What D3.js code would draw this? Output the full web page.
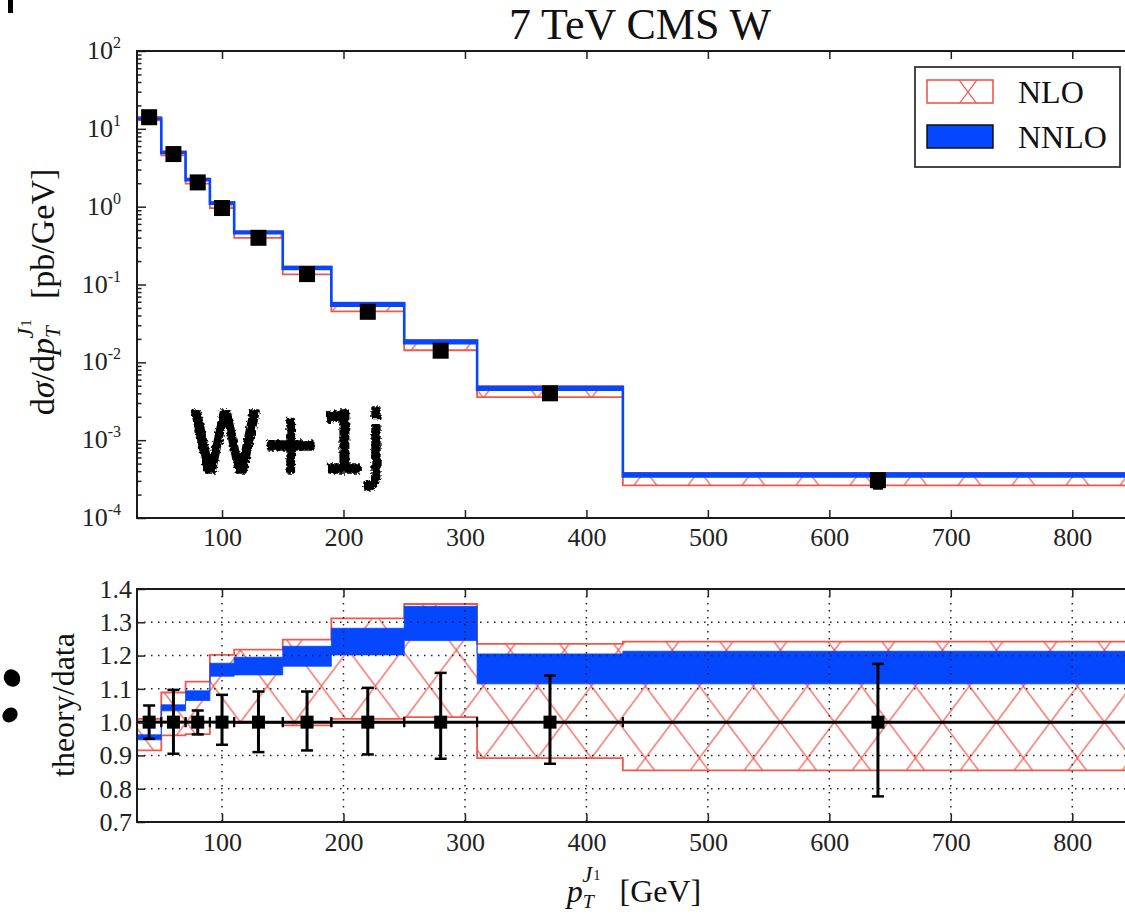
<!DOCTYPE html>
<html lang="en">
<head>
<meta charset="UTF-8" />
<title>7 TeV CMS W</title>
<script src="https://cdnjs.cloudflare.com/ajax/libs/d3/7.8.5/d3.min.js"></script>
<style>
  body { margin: 0; background: #fff; }
  svg { display: block; font-family: "Liberation Serif", "DejaVu Serif", serif; }
  .tick text { font-size: 26px; fill: #222; font-family: "Liberation Serif", serif; }
  .tick line { stroke: #222; stroke-width: 1.5; }
  .grid line { stroke: #222; stroke-width: 1.5; stroke-dasharray: 1.5, 5.5; }
</style>
</head>
<body>
<svg width="1125" height="915"></svg>
<script>
// pT bins [GeV]
var binEdges = [30, 50, 70, 90, 110, 150, 190, 250, 310, 430, 850];
var binCenters = [40, 60, 80, 100, 130, 170, 220, 280, 370, 640];

// CMS data [pb/GeV]
var dataVal = [14.1, 4.74, 2.05, 0.96, 0.398, 0.136, 0.0446, 0.0141, 0.0040, 0.000306];
// data errors as ratio to data (lower panel)
var errLo = [0.95, 0.905, 0.963, 0.932, 0.91, 0.915, 0.903, 0.89, 0.875, 0.777];
var errHi = [1.05, 1.097, 1.035, 1.082, 1.092, 1.092, 1.103, 1.148, 1.14, 1.175];

// theory bands, upper panel [pb/GeV]
var nloLo = [12.9, 4.55, 1.98, 0.96, 0.397, 0.135, 0.0451, 0.0143, 0.00357, 0.000262];
var nloHi = [14.2, 5.16, 2.30, 1.154, 0.485, 0.170, 0.0585, 0.0191, 0.00494, 0.000380];
var nnloLo = [13.35, 4.90, 2.18, 1.092, 0.4545, 0.1588, 0.0536, 0.01755, 0.00446, 0.000341];
var nnloHi = [13.56, 4.99, 2.24, 1.130, 0.4756, 0.1670, 0.0572, 0.0190, 0.00482, 0.000372];

// theory/data, lower panel
var nloRatioLo = [0.915, 0.96, 0.964, 1.0, 0.998, 0.99, 1.01, 1.015, 0.892, 0.855];
var nloRatioHi = [1.01, 1.089, 1.122, 1.202, 1.218, 1.248, 1.312, 1.355, 1.235, 1.242];
var nnloRatioLo = [0.947, 1.034, 1.065, 1.138, 1.142, 1.168, 1.202, 1.245, 1.115, 1.115];
var nnloRatioHi = [0.962, 1.052, 1.094, 1.177, 1.195, 1.228, 1.282, 1.348, 1.205, 1.213];

var xTicks = [100, 200, 300, 400, 500, 600, 700, 800];
var decades = [-4, -3, -2, -1, 0, 1, 2];
var ratioTicks = [0.7, 0.8, 0.9, 1.0, 1.1, 1.2, 1.3, 1.4];
var ratioGrid = [0.8, 0.9, 1.0, 1.1, 1.2, 1.3];

var RED = "#f0584c", BLUE = "#0546ff", INK = "#1a1a1a";
var SERIF = "Liberation Serif, DejaVu Serif, serif";

var svg = d3.select("svg");
var defs = svg.append("defs");

var x = d3.scaleLinear().domain([binEdges[0], binEdges[binEdges.length - 1]]).range([137, 1133]);
var yTop = d3.scaleLog().domain([1e-4, 1e2]).range([518, 51]);
var yBot = d3.scaleLinear().domain([0.7, 1.4]).range([822, 589]);

// cross hatch like matplotlib 'x'
function hatch(id, ox, oy) {
  var p = defs.append("pattern").attr("id", id).attr("patternUnits", "userSpaceOnUse")
    .attr("x", ox).attr("y", oy).attr("width", 54).attr("height", 72);
  [[0, 0, 54, 72], [54, 0, 0, 72], [-54, 0, 0, 72], [54, 0, 108, 72], [0, -72, 54, 0], [54, -72, 0, 0], [0, 72, 54, 144], [54, 72, 0, 144]]
    .forEach(function(l) {
      p.append("line").attr("x1", l[0]).attr("y1", l[1]).attr("x2", l[2]).attr("y2", l[3])
        .attr("stroke", RED).attr("stroke-width", 1.3);
    });
}
hatch("hatch", x(400) - 400, yBot(1.0));
hatch("hatchLeg", 968 - 27, 92 - 36);

function clip(id, y) {
  defs.append("clipPath").attr("id", id).append("rect")
    .attr("x", x.range()[0]).attr("y", y.range()[1])
    .attr("width", x.range()[1] - x.range()[0]).attr("height", y.range()[0] - y.range()[1]);
}
clip("clipTop", yTop);
clip("clipBot", yBot);

var rough = defs.append("filter").attr("id", "rough");
rough.append("feTurbulence").attr("type", "fractalNoise").attr("baseFrequency", 0.35).attr("numOctaves", 2).attr("result", "n");
rough.append("feDisplacementMap").attr("in", "SourceGraphic").attr("in2", "n").attr("scale", 5);

function band(y, lo, hi) {
  var pts = binEdges.map(function(e, i) {
    var k = Math.min(i, lo.length - 1);
    return { x: e, lo: lo[k], hi: hi[k] };
  });
  return d3.area().curve(d3.curveStepAfter)
    .x(function(d) { return x(d.x); })
    .y0(function(d) { return y(d.lo); })
    .y1(function(d) { return y(d.hi); })(pts);
}

// axis styling: serif labels, no domain line (frame drawn separately)
function styleAxis(g) {
  g.attr("font-family", SERIF).attr("font-size", 26);
  g.select(".domain").remove();
}

// ---------- upper panel ----------
var upper = svg.append("g");
var upperBands = upper.append("g").attr("clip-path", "url(#clipTop)");
upperBands.append("path").attr("d", band(yTop, nloLo, nloHi))
  .attr("fill", "url(#hatch)").attr("stroke", RED).attr("stroke-width", 1.8);
upperBands.append("path").attr("d", band(yTop, nnloLo, nnloHi))
  .attr("fill", BLUE).attr("stroke", BLUE).attr("stroke-width", 2.6);

// data
var pts = upper.append("g");
binCenters.forEach(function(c, i) {
  var lo = yTop(dataVal[i] * errLo[i]), hi = yTop(dataVal[i] * errHi[i]);
  pts.append("line").attr("x1", x(c)).attr("x2", x(c)).attr("y1", lo).attr("y2", hi)
    .attr("stroke", "#000").attr("stroke-width", 2.5);
  [lo, hi].forEach(function(v) {
    pts.append("line").attr("x1", x(c) - 5).attr("x2", x(c) + 5).attr("y1", v).attr("y2", v)
      .attr("stroke", "#000").attr("stroke-width", 2);
  });
  pts.append("rect").attr("x", x(c) - 8).attr("y", yTop(dataVal[i]) - 8)
    .attr("width", 16).attr("height", 16).attr("fill", "#000");
});

// axes
upper.append("g").attr("transform", "translate(0,518)")
  .call(d3.axisBottom(x).tickValues(xTicks).tickSizeInner(-8).tickSizeOuter(0).tickPadding(10))
  .call(styleAxis);
upper.append("g").attr("transform", "translate(0,51)")
  .call(d3.axisTop(x).tickValues(xTicks).tickSizeInner(-8).tickSizeOuter(0).tickFormat(""))
  .call(styleAxis);
var majors = decades.map(function(d) { return Math.pow(10, d); });
var minors = [];
decades.slice(0, -1).forEach(function(d) {
  for (var m = 2; m < 10; m++) minors.push(m * Math.pow(10, d));
});
upper.append("g").attr("transform", "translate(137,0)")
  .call(d3.axisLeft(yTop).tickValues(majors).tickSizeInner(-9).tickSizeOuter(0).tickFormat(""))
  .call(styleAxis);
upper.append("g").attr("transform", "translate(137,0)")
  .call(d3.axisLeft(yTop).tickValues(minors).tickSizeInner(-4.5).tickSizeOuter(0).tickFormat(""))
  .call(styleAxis);
decades.forEach(function(d) {
  var t = upper.append("text").attr("x", 121).attr("y", yTop(Math.pow(10, d)) + 8)
    .attr("text-anchor", "end").attr("font-size", 26).attr("fill", "#222");
  t.append("tspan").text("10");
  t.append("tspan").attr("font-size", 16).attr("dy", -11).text(d < 0 ? "-" + (-d) : d);
});
upper.append("rect").attr("x", 137).attr("y", 51).attr("width", 1133 - 137).attr("height", 518 - 51)
  .attr("fill", "none").attr("stroke", INK).attr("stroke-width", 2);

// ---------- lower panel ----------
var lower = svg.append("g");
var lowerBands = lower.append("g").attr("clip-path", "url(#clipBot)");
lowerBands.append("path").attr("d", band(yBot, nloRatioLo, nloRatioHi))
  .attr("fill", "url(#hatch)").attr("stroke", RED).attr("stroke-width", 1.8);
lowerBands.append("path").attr("d", band(yBot, nnloRatioLo, nnloRatioHi))
  .attr("fill", BLUE).attr("stroke", BLUE).attr("stroke-width", 0.8);

var grid = lower.append("g").attr("class", "grid");
grid.selectAll("line.v").data(xTicks).join("line").attr("class", "v")
  .attr("x1", x).attr("x2", x).attr("y1", yBot.range()[1]).attr("y2", yBot.range()[0]);
grid.selectAll("line.h").data(ratioGrid).join("line").attr("class", "h")
  .attr("x1", x.range()[0]).attr("x2", x.range()[1]).attr("y1", yBot).attr("y2", yBot);

var rp = lower.append("g").attr("clip-path", "url(#clipBot)");
binCenters.forEach(function(c, i) {
  var x0 = x(binEdges[i]), x1 = x(binEdges[i + 1]), y1 = yBot(1);
  rp.append("line").attr("x1", x0).attr("x2", x1).attr("y1", y1).attr("y2", y1)
    .attr("stroke", "#000").attr("stroke-width", 3);
  [x0, x1].forEach(function(v) {
    rp.append("line").attr("x1", v).attr("x2", v).attr("y1", y1 - 5).attr("y2", y1 + 5)
      .attr("stroke", "#000").attr("stroke-width", 2);
  });
});
binCenters.forEach(function(c, i) {
  var lo = yBot(errLo[i]), hi = yBot(errHi[i]);
  rp.append("line").attr("x1", x(c)).attr("x2", x(c)).attr("y1", lo).attr("y2", hi)
    .attr("stroke", "#000").attr("stroke-width", 3);
  [lo, hi].forEach(function(v) {
    rp.append("line").attr("x1", x(c) - 6).attr("x2", x(c) + 6).attr("y1", v).attr("y2", v)
      .attr("stroke", "#000").attr("stroke-width", 2.5);
  });
  rp.append("rect").attr("x", x(c) - 6.5).attr("y", yBot(1) - 6.5)
    .attr("width", 13).attr("height", 13).attr("fill", "#000");
});

lower.append("g").attr("transform", "translate(0,822)")
  .call(d3.axisBottom(x).tickValues(xTicks).tickSizeInner(-8).tickSizeOuter(0).tickPadding(11))
  .call(styleAxis);
lower.append("g").attr("transform", "translate(0,589)")
  .call(d3.axisTop(x).tickValues(xTicks).tickSizeInner(-8).tickSizeOuter(0).tickFormat(""))
  .call(styleAxis);
lower.append("g").attr("transform", "translate(137,0)")
  .call(d3.axisLeft(yBot).tickValues(ratioTicks).tickSizeInner(-8).tickSizeOuter(0).tickPadding(5)
    .tickFormat(d3.format(".1f")))
  .call(styleAxis);
lower.append("rect").attr("x", 137).attr("y", 589).attr("width", 1133 - 137).attr("height", 822 - 589)
  .attr("fill", "none").attr("stroke", INK).attr("stroke-width", 2);

// ---------- labels ----------
function pT(t, size, suffix) {
  t.append("tspan").attr("font-style", "italic").text("p");
  t.append("tspan").attr("font-style", "italic").attr("font-size", size * 0.62).attr("dy", size * 0.18).text("T");
  t.append("tspan").attr("font-style", "italic").attr("font-size", size * 0.7)
    .attr("dx", -size * 0.36).attr("dy", -size * 0.8).text("J");
  t.append("tspan").attr("font-size", size * 0.45).attr("dx", size * 0.03).attr("dy", -size * 0.06).text("1");
  t.append("tspan").attr("font-size", size).attr("dx", size * 0.6).attr("dy", size * 0.68).text(suffix);
}

svg.append("text").attr("x", 640).attr("y", 39).attr("text-anchor", "middle")
  .attr("font-size", 44).attr("fill", "#111").text("7 TeV CMS W");

var xl = svg.append("text").attr("x", 634).attr("y", 902).attr("text-anchor", "middle")
  .attr("font-size", 32).attr("fill", "#111");
pT(xl, 32, "[GeV]");

var yl = svg.append("text").attr("transform", "translate(54,292) rotate(-90)")
  .attr("text-anchor", "middle").attr("font-size", 34).attr("fill", "#111");
yl.append("tspan").text("d");
yl.append("tspan").attr("font-style", "italic").text("σ");
yl.append("tspan").text("/d");
pT(yl, 34, "[pb/GeV]");

svg.append("text").attr("transform", "translate(74,705) rotate(-90)")
  .attr("text-anchor", "middle").attr("font-size", 32).attr("fill", "#111").text("theory/data");

// legend
var leg = svg.append("g");
leg.append("rect").attr("x", 915).attr("y", 67).attr("width", 205).attr("height", 100)
  .attr("fill", "#fff").attr("stroke", "#333").attr("stroke-width", 1.8);
leg.append("rect").attr("x", 927).attr("y", 80).attr("width", 66).attr("height", 23)
  .attr("fill", "url(#hatchLeg)").attr("stroke", RED).attr("stroke-width", 1.6);
leg.append("rect").attr("x", 927).attr("y", 125).attr("width", 66).attr("height", 23)
  .attr("fill", BLUE).attr("stroke", "#111").attr("stroke-width", 1.5);
leg.append("text").attr("x", 1018).attr("y", 103).attr("font-size", 32).attr("fill", "#111").text("NLO");
leg.append("text").attr("x", 1018).attr("y", 148).attr("font-size", 32).attr("fill", "#111").text("NNLO");

// handwritten tag
svg.append("text").attr("x", 190).attr("y", 472).attr("font-family", "DejaVu Sans")
  .attr("font-size", 84).attr("textLength", 196)
  .attr("lengthAdjust", "spacingAndGlyphs").attr("fill", "#000").attr("stroke", "#000")
  .attr("stroke-width", 3.5).attr("stroke-linejoin", "round")
  .attr("filter", "url(#rough)").text("W+1j");

// stray marks at the page edge
svg.append("rect").attr("x", 8).attr("y", 0).attr("width", 5).attr("height", 13).attr("fill", "#000");
svg.append("ellipse").attr("cx", 12).attr("cy", 678).attr("rx", 8).attr("ry", 9)
  .attr("transform", "rotate(-30,12,678)").attr("fill", "#000");
svg.append("ellipse").attr("cx", 10).attr("cy", 715).attr("rx", 8).attr("ry", 7)
  .attr("transform", "rotate(-40,10,715)").attr("fill", "#000");
</script>
</body>
</html>
